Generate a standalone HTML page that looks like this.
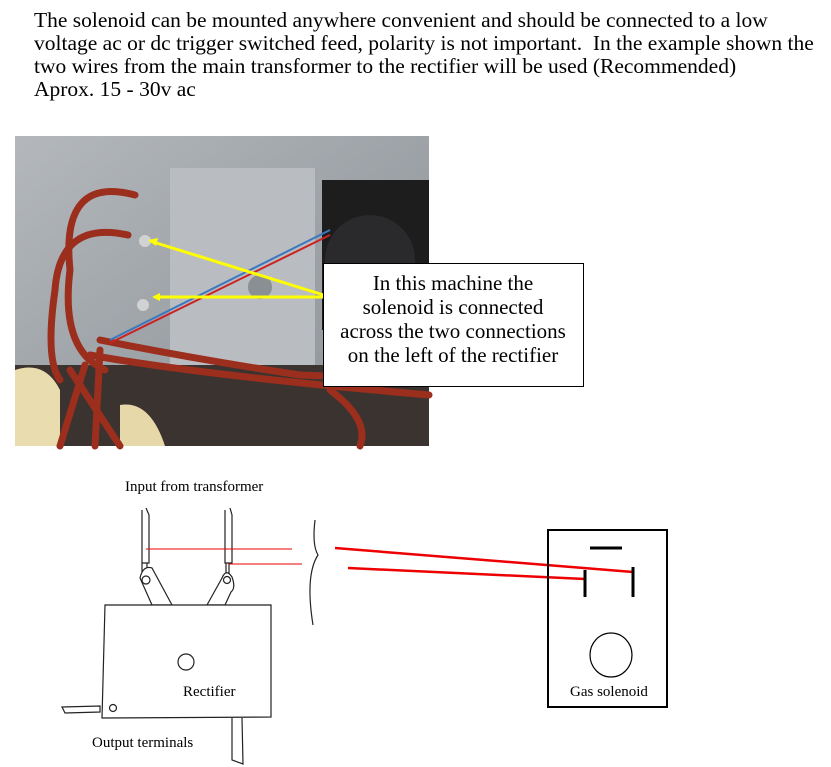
<!DOCTYPE html>
<html><head><style>
body{margin:0;width:831px;height:767px;background:#fff;overflow:hidden;position:relative;font-family:"Liberation Serif",serif}
.t{position:absolute;left:34px;top:9px;font-size:21.5px;line-height:23px;color:#000;white-space:nowrap}
</style></head><body>
<div class="t">The solenoid can be mounted anywhere convenient and should be connected to a low<br>voltage ac or dc trigger switched feed, polarity is not important.&nbsp; In the example shown the<br>two wires from the main transformer to the rectifier will be used (Recommended)<br>Aprox. 15 - 30v ac</div>
<svg width="831" height="767" style="position:absolute;left:0;top:0">
<defs><linearGradient id="m" x1="0" y1="0" x2="1" y2="1"><stop offset="0" stop-color="#b4b8bc"/><stop offset="0.5" stop-color="#9ea3a8"/><stop offset="1" stop-color="#8c9196"/></linearGradient></defs>
<rect x="15" y="136" width="414" height="310" fill="url(#m)"/>
<rect x="170" y="168" width="145" height="210" fill="#b9bcc0"/>
<rect x="322" y="180" width="107" height="150" fill="#1d1d1e"/>
<circle cx="370" cy="260" r="45" fill="#2a2a2c"/>
<rect x="15" y="365" width="414" height="81" fill="#3a3330"/>
<path d="M15 370 Q45 360 60 390 L60 446 L15 446Z" fill="#e9ddb0"/>
<path d="M120 405 Q150 400 165 446 L120 446Z" fill="#e6d8a8"/>
<g stroke="#9b2e1c" stroke-width="7" fill="none" stroke-linecap="round">
<path d="M135 195 Q60 175 70 270 Q60 350 105 370"/>
<path d="M128 235 Q60 220 55 290 Q45 360 60 380"/>
<path d="M100 340 Q200 360 300 375 L429 380"/>
<path d="M90 355 Q200 375 429 395"/><path d="M70 370 L120 446"/><path d="M85 365 L60 446"/><path d="M100 350 L95 446"/>
<path d="M330 390 Q370 420 360 446"/>
</g>
<line x1="110" y1="340" x2="330" y2="230" stroke="#3a78c0" stroke-width="2"/>
<line x1="110" y1="343" x2="330" y2="235" stroke="#c22" stroke-width="2"/>
<circle cx="145" cy="241" r="6" fill="#d0d2d4"/><circle cx="143" cy="305" r="6" fill="#d0d2d4"/>
<circle cx="260" cy="287" r="12" fill="#8a8f94"/>
<g stroke="#ffff00" stroke-width="3"><line x1="330" y1="297" x2="150" y2="241"/><line x1="330" y1="297" x2="156" y2="297"/></g>
<polygon points="148,240 158,238 156,246" fill="#ff0"/><polygon points="152,297 160,293 160,301" fill="#ff0"/>
<rect x="323.5" y="263.5" width="260" height="123" fill="#fff" stroke="#000"/>
<g font-family="Liberation Serif,serif" font-size="21" text-anchor="middle">
<text x="453" y="290">In this machine the</text><text x="453" y="314">solenoid is connected</text><text x="453" y="338">across the two connections</text><text x="453" y="362">on the left of the rectifier</text></g>
<g stroke="#222" stroke-width="1.2" fill="#fff">
<path d="M142 510 L142 563 L149 563 L149 515 L146 508"/><path d="M225 510 L225 563 L232 563 L232 515 L230 508"/>
<path d="M142 563 L142 572 M147 563 L147 572 M226 563 L226 575 M229 563 L229 575"/>
<path d="M140 578 Q143 565 152 568 L172 605 L152 605 Z"/><circle cx="146" cy="580" r="4"/>
<path d="M232 577 Q236 588 231 592 L225 605 L207 605 L222 578 Q226 568 232 577Z"/><circle cx="227" cy="580" r="3.5"/>
<path d="M105 605 L271 605 L271 717 L102 718 Z"/>
<ellipse cx="186" cy="662" rx="8" ry="8"/>
<path d="M62 707 L100 706 L100 712 L65 713 Z"/><circle cx="113" cy="708" r="3.5"/>
<path d="M232 718 L232 760 L243 764 L242 718"/>
<path d="M315 520 Q312 545 318 555 Q305 575 313 625" fill="none"/>
</g>
<g stroke="#e00" fill="none">
<line x1="146" y1="549" x2="292" y2="549" stroke-width="1"/><line x1="229" y1="564" x2="302" y2="564" stroke-width="1"/>
<line x1="335" y1="548" x2="633" y2="572" stroke-width="2.5"/><line x1="348" y1="568" x2="585" y2="579" stroke-width="2.5"/></g>
<rect x="548" y="530" width="119" height="177" fill="none" stroke="#000" stroke-width="2"/>
<line x1="590" y1="548" x2="622" y2="548" stroke="#000" stroke-width="3"/>
<line x1="585" y1="570" x2="585" y2="597" stroke="#000" stroke-width="3"/>
<line x1="633" y1="567" x2="633" y2="597" stroke="#000" stroke-width="3"/>
<ellipse cx="611" cy="655" rx="21" ry="22" fill="none" stroke="#000" stroke-width="1.2"/>
<g font-family="Liberation Serif,serif" font-size="15" fill="#000">
<text x="125" y="491">Input from transformer</text><text x="183" y="696">Rectifier</text><text x="92" y="747">Output terminals</text><text x="570" y="696">Gas solenoid</text></g>
</svg>
</body></html>
